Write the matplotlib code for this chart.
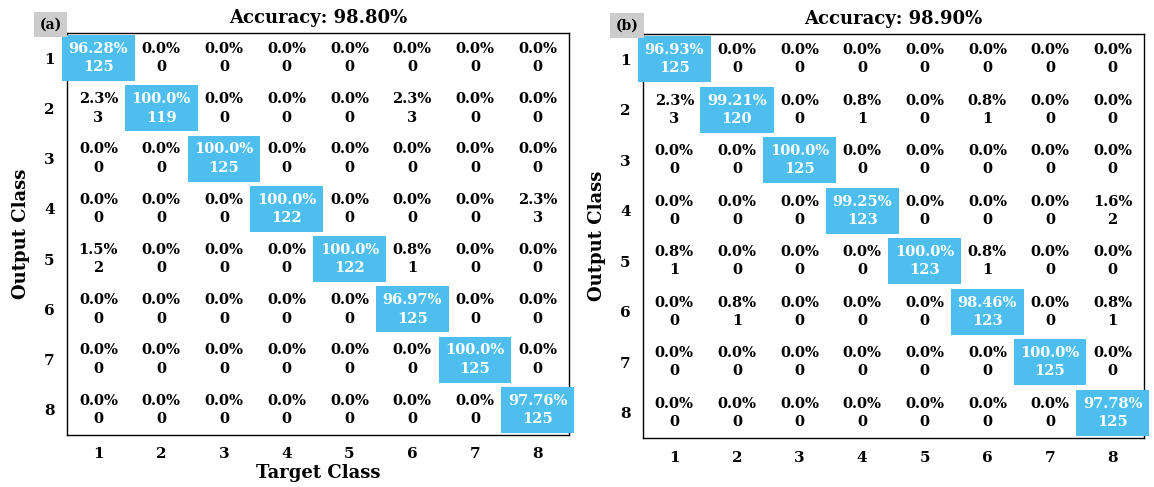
import numpy as np
import matplotlib.pyplot as plt

plt.rcParams['font.family'] = 'DejaVu Serif'
plt.rcParams['font.weight'] = 'bold'

classes = [1, 2, 3, 4, 5, 6, 7, 8]

# rows = output class, columns = target class
counts_a = np.array([
    [125, 0, 0, 0, 0, 0, 0, 0],
    [3, 119, 0, 0, 0, 3, 0, 0],
    [0, 0, 125, 0, 0, 0, 0, 0],
    [0, 0, 0, 122, 0, 0, 0, 3],
    [2, 0, 0, 0, 122, 1, 0, 0],
    [0, 0, 0, 0, 0, 125, 0, 0],
    [0, 0, 0, 0, 0, 0, 125, 0],
    [0, 0, 0, 0, 0, 0, 0, 125],
])
pct_a = np.array([
    [96.28, 0.0, 0.0, 0.0, 0.0, 0.0, 0.0, 0.0],
    [2.3, 100.0, 0.0, 0.0, 0.0, 2.3, 0.0, 0.0],
    [0.0, 0.0, 100.0, 0.0, 0.0, 0.0, 0.0, 0.0],
    [0.0, 0.0, 0.0, 100.0, 0.0, 0.0, 0.0, 2.3],
    [1.5, 0.0, 0.0, 0.0, 100.0, 0.8, 0.0, 0.0],
    [0.0, 0.0, 0.0, 0.0, 0.0, 96.97, 0.0, 0.0],
    [0.0, 0.0, 0.0, 0.0, 0.0, 0.0, 100.0, 0.0],
    [0.0, 0.0, 0.0, 0.0, 0.0, 0.0, 0.0, 97.76],
])
acc_a = 98.80

counts_b = np.array([
    [125, 0, 0, 0, 0, 0, 0, 0],
    [3, 120, 0, 1, 0, 1, 0, 0],
    [0, 0, 125, 0, 0, 0, 0, 0],
    [0, 0, 0, 123, 0, 0, 0, 2],
    [1, 0, 0, 0, 123, 1, 0, 0],
    [0, 1, 0, 0, 0, 123, 0, 1],
    [0, 0, 0, 0, 0, 0, 125, 0],
    [0, 0, 0, 0, 0, 0, 0, 125],
])
pct_b = np.array([
    [96.93, 0.0, 0.0, 0.0, 0.0, 0.0, 0.0, 0.0],
    [2.3, 99.21, 0.0, 0.8, 0.0, 0.8, 0.0, 0.0],
    [0.0, 0.0, 100.0, 0.0, 0.0, 0.0, 0.0, 0.0],
    [0.0, 0.0, 0.0, 99.25, 0.0, 0.0, 0.0, 1.6],
    [0.8, 0.0, 0.0, 0.0, 100.0, 0.8, 0.0, 0.0],
    [0.0, 0.8, 0.0, 0.0, 0.0, 98.46, 0.0, 0.8],
    [0.0, 0.0, 0.0, 0.0, 0.0, 0.0, 100.0, 0.0],
    [0.0, 0.0, 0.0, 0.0, 0.0, 0.0, 0.0, 97.78],
])
acc_b = 98.90

BLUE = '#4DBEEE'


def fmt_pct(v, diag):
    if diag and v != 100.0:
        return '%.2f%%' % v
    return '%.1f%%' % v


def draw_cm(ax, counts, pct, acc, tag, xlabel=True):
    n = len(classes)
    ax.set_xlim(0.5, n + 0.5)
    ax.set_ylim(n + 0.5, 0.5)
    for i in range(n):
        for j in range(n):
            diag = i == j
            s = fmt_pct(pct[i, j], diag) + '\n' + str(counts[i, j])
            kw = dict(ha='center', va='center', fontsize=10.5,
                      fontweight='bold', linespacing=1.4, clip_on=False)
            if diag:
                ax.text(j + 1, i + 1, s, color='white',
                        bbox=dict(facecolor=BLUE, edgecolor='none', pad=4.8), **kw)
            else:
                ax.text(j + 1, i + 1, s, color='black', **kw)
    ax.set_xticks(range(1, n + 1))
    ax.set_yticks(range(1, n + 1))
    ax.set_xticklabels(classes, fontsize=11, fontweight='bold')
    ax.set_yticklabels(classes, fontsize=11, fontweight='bold')
    ax.tick_params(length=0, pad=9)
    for sp in ax.spines.values():
        sp.set_linewidth(1.0)
    ax.set_title('Accuracy: %.2f%%' % acc, fontsize=13, fontweight='bold', pad=7)
    ax.set_ylabel('Output Class', fontsize=13, fontweight='bold', labelpad=10)
    if xlabel:
        ax.set_xlabel('Target Class', fontsize=13, fontweight='bold', labelpad=2)
    ax.text(-0.055, 1.02, tag, transform=ax.transAxes, ha='left', va='center',
            fontsize=10, fontweight='bold',
            bbox=dict(facecolor='#cccccc', edgecolor='none', pad=4))


fig = plt.figure(figsize=(11.54, 4.87), dpi=100)
ax1 = fig.add_axes([0.0581, 0.1068, 0.435, 0.8255])
ax2 = fig.add_axes([0.5572, 0.1006, 0.4341, 0.8296])
draw_cm(ax1, counts_a, pct_a, acc_a, '(a)')
draw_cm(ax2, counts_b, pct_b, acc_b, '(b)', xlabel=False)

fig.savefig('out.png', dpi=100)
